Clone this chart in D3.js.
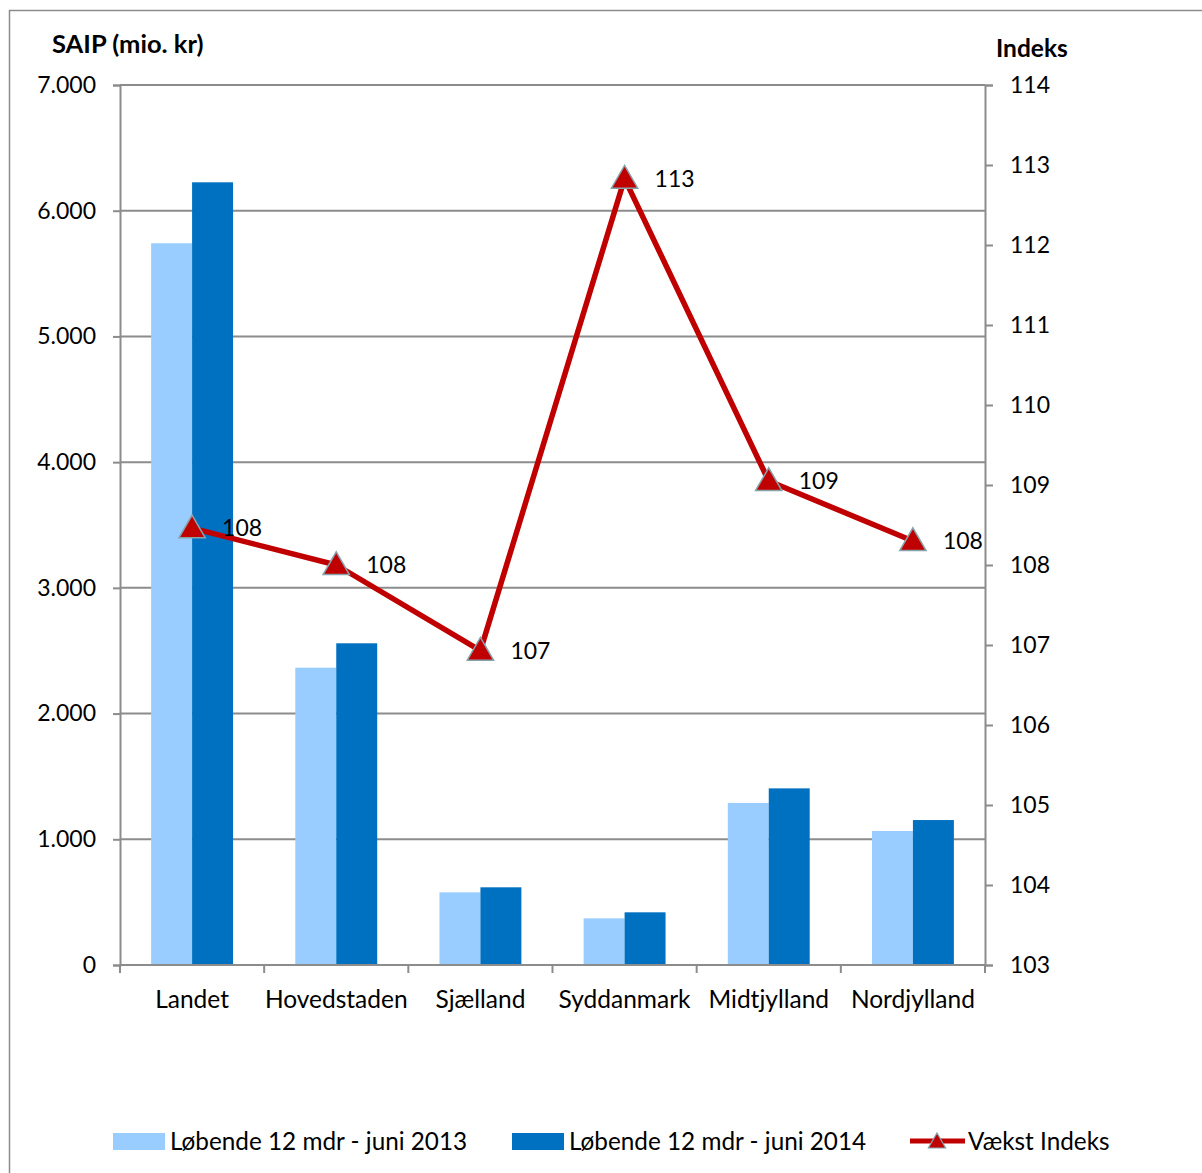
<!DOCTYPE html>
<html lang="da">
<head>
<meta charset="utf-8">
<title>SAIP og vækst indeks</title>
<script src="https://d3js.org/d3.v7.min.js"></script>
<style>
  body { margin: 0; background: #fff; }
  text { font-family: Lato, "Open Sans", sans-serif; fill: #000; }
</style>
</head>
<body>
<div id="chart"></div>
<script>
// data
const regions = ["Landet", "Hovedstaden", "Sjælland", "Syddanmark", "Midtjylland", "Nordjylland"];
const saip2013 = [5741, 2365, 578, 371, 1289, 1066];
const saip2014 = [6226, 2559, 618, 419, 1405, 1153];
const indeks = [108.46, 108.0, 106.93, 112.83, 109.05, 108.3];
const leftTicks = [0, 1000, 2000, 3000, 4000, 5000, 6000, 7000];
const rightTicks = [103, 104, 105, 106, 107, 108, 109, 110, 111, 112, 113, 114];
const seriesNames = ["Løbende 12 mdr - juni 2013", "Løbende 12 mdr - juni 2014", "Vækst Indeks"];

const W = 1202, H = 1173;
const margin = {top: 85, right: 217, bottom: 208, left: 120};
const width = W - margin.left - margin.right,
      height = H - margin.top - margin.bottom;

const colors = {c2013: "#99ccff", c2014: "#0070c0", line: "#c00000", grid: "#8c8c8c"};

const svg = d3.select("#chart").append("svg")
  .attr("width", W)
  .attr("height", H);

// outer frame
svg.append("rect")
  .attr("x", 9.5).attr("y", 10.5)
  .attr("width", 1200).attr("height", 1200)
  .attr("fill", "none")
  .attr("stroke", colors.grid)
  .attr("stroke-width", 1.5);

const g = svg.append("g")
  .attr("transform", "translate(" + margin.left + "," + margin.top + ")");

// scales
const x = d3.scaleBand().domain(regions).range([0, width]).padding(0);
const xSub = d3.scaleBand().domain([0, 1]).range([0, x.bandwidth()])
  .paddingInner(0).paddingOuter(0.76);
const y = d3.scaleLinear().domain([0, 7000]).range([height, 0]);
const yR = d3.scaleLinear().domain([103, 114]).range([height, 0]);

// gridlines
g.append("g")
  .selectAll("line")
  .data(leftTicks.slice(1))
  .enter().append("line")
  .attr("x1", 0).attr("x2", width)
  .attr("y1", d => y(d)).attr("y2", d => y(d))
  .attr("stroke", colors.grid)
  .attr("stroke-width", 2);

// bars
const groups = g.selectAll(".grp")
  .data(regions)
  .enter().append("g")
  .attr("class", "grp")
  .attr("transform", d => "translate(" + x(d) + ",0)");

groups.append("rect")
  .attr("x", xSub(0))
  .attr("width", xSub.bandwidth())
  .attr("y", (d, i) => y(saip2013[i]))
  .attr("height", (d, i) => height - y(saip2013[i]))
  .attr("fill", colors.c2013);

groups.append("rect")
  .attr("x", xSub(1))
  .attr("width", xSub.bandwidth())
  .attr("y", (d, i) => y(saip2014[i]))
  .attr("height", (d, i) => height - y(saip2014[i]))
  .attr("fill", colors.c2014);

// left axis
const leftAxis = g.append("g")
  .call(d3.axisLeft(y).tickValues(leftTicks).tickSize(7).tickPadding(17)
    .tickFormat(d => d3.format(",")(d).replace(/,/g, ".")));

// right axis
const rightAxis = g.append("g")
  .attr("transform", "translate(" + width + ",0)")
  .call(d3.axisRight(yR).tickValues(rightTicks).tickSize(8).tickPadding(17));

// bottom axis, ticks between the categories
const bottomAxis = g.append("g")
  .attr("transform", "translate(0," + height + ")");
bottomAxis.append("line")
  .attr("x1", 0).attr("x2", width)
  .attr("stroke", colors.grid).attr("stroke-width", 2);
bottomAxis.selectAll(".tk")
  .data(regions.concat(["end"]))
  .enter().append("line")
  .attr("class", "tk")
  .attr("x1", (d, i) => i < regions.length ? x(d) : width)
  .attr("x2", (d, i) => i < regions.length ? x(d) : width)
  .attr("y1", 0).attr("y2", 8)
  .attr("stroke", colors.grid).attr("stroke-width", 2);
bottomAxis.selectAll(".lbl")
  .data(regions)
  .enter().append("text")
  .attr("class", "lbl")
  .attr("x", d => x(d) + x.bandwidth() / 2)
  .attr("y", 43)
  .attr("text-anchor", "middle")
  .style("font-size", "24.5px")
  .text(d => d);

[leftAxis, rightAxis].forEach(a => {
  a.select(".domain").attr("stroke", colors.grid).attr("stroke-width", 2);
  a.selectAll(".tick line").attr("stroke", colors.grid).attr("stroke-width", 2);
  a.selectAll(".tick text").style("font-size", "23px")
    .style("font-family", "Lato, sans-serif").attr("fill", "#000");
});

// axis titles
svg.append("text")
  .attr("x", 52).attr("y", 53)
  .style("font-size", "25.5px").style("font-weight", "bold")
  .text("SAIP (mio. kr)");
svg.append("text")
  .attr("x", 996).attr("y", 57)
  .style("font-size", "24.5px").style("font-weight", "bold")
  .text("Indeks");

// index line
const cx = d => x(d) + x.bandwidth() / 2;
const line = d3.line()
  .x((d, i) => cx(regions[i]))
  .y(d => yR(d));

g.append("path")
  .datum(indeks)
  .attr("d", line)
  .attr("fill", "none")
  .attr("stroke", colors.line)
  .attr("stroke-width", 5.5)
  .attr("stroke-linejoin", "round");

const tri = d3.symbol().type(d3.symbolTriangle).size(300);

g.selectAll(".mark")
  .data(indeks)
  .enter().append("path")
  .attr("class", "mark")
  .attr("d", tri)
  .attr("transform", (d, i) => "translate(" + cx(regions[i]) + "," + (yR(d) + 2) + ")")
  .attr("fill", colors.line)
  .attr("stroke", "#86a3ab")
  .attr("stroke-width", 1.5);

g.selectAll(".dlbl")
  .data(indeks)
  .enter().append("text")
  .attr("class", "dlbl")
  .attr("x", (d, i) => cx(regions[i]) + 30)
  .attr("y", d => yR(d) + 8)
  .style("font-size", "23px")
  .text(d => Math.round(d));

// legend
const legend = svg.append("g").attr("transform", "translate(0,1141)");
const legItems = [
  {x: 113, type: "rect", color: colors.c2013, name: seriesNames[0]},
  {x: 512, type: "rect", color: colors.c2014, name: seriesNames[1]},
  {x: 910, type: "line", color: colors.line, name: seriesNames[2]}
];
legItems.forEach(it => {
  if (it.type === "rect") {
    legend.append("rect")
      .attr("x", it.x).attr("y", -8)
      .attr("width", 52).attr("height", 17)
      .attr("fill", it.color);
  } else {
    legend.append("line")
      .attr("x1", it.x).attr("x2", it.x + 55)
      .attr("y1", 0).attr("y2", 0)
      .attr("stroke", it.color).attr("stroke-width", 5);
    legend.append("path")
      .attr("d", d3.symbol().type(d3.symbolTriangle).size(130))
      .attr("transform", "translate(" + (it.x + 27) + ",2)")
      .attr("fill", it.color)
      .attr("stroke", "#86a3ab").attr("stroke-width", 1.2);
  }
  legend.append("text")
    .attr("x", it.x + (it.type === "rect" ? 57 : 58))
    .attr("y", 9)
    .style("font-size", "24.3px")
    .text(it.name);
});
</script>
</body>
</html>
